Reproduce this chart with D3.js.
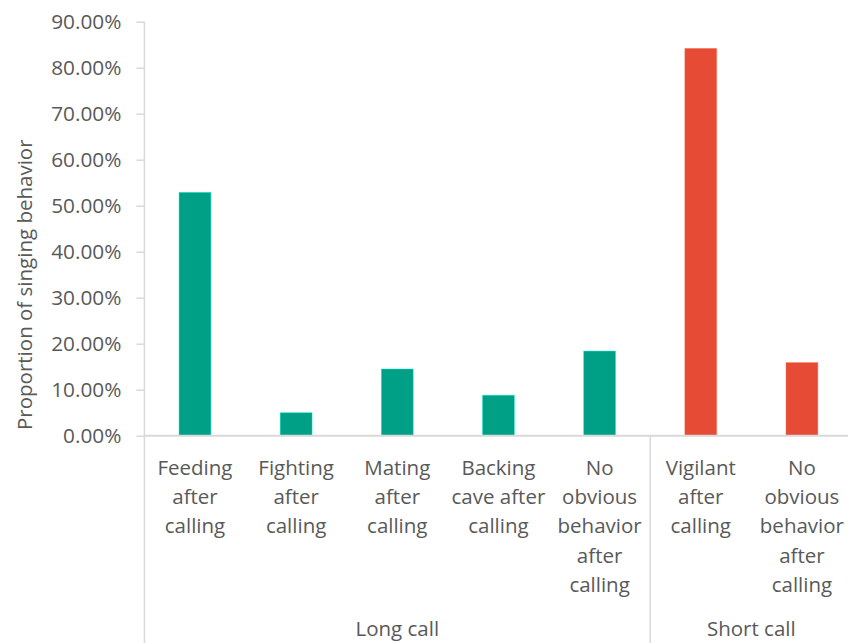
<!DOCTYPE html>
<html>
<head>
<meta charset="utf-8">
<script src="https://cdn.jsdelivr.net/npm/d3@7"></script>
<style>
  html, body { margin: 0; padding: 0; background: #fff; }
  svg { display: block; }
  text { font-family: "Open Sans", "Noto Sans", sans-serif; fill: #595959; }
</style>
</head>
<body>
<svg id="chart" width="848" height="643"></svg>
<script>
// Behaviour following each call type (line breaks as set in the axis labels)
const categories = [
  "Feeding\nafter\ncalling",
  "Fighting\nafter\ncalling",
  "Mating\nafter\ncalling",
  "Backing\ncave after\ncalling",
  "No\nobvious\nbehavior\nafter\ncalling",
  "Vigilant\nafter\ncalling",
  "No\nobvious\nbehavior\nafter\ncalling"
];
const groups = ["Long call", "Long call", "Long call", "Long call", "Long call", "Short call", "Short call"];
const values = [0.529, 0.050, 0.145, 0.088, 0.184, 0.842, 0.159];
const groupNames = ["Long call", "Short call"];
const yTicks = [0, 0.1, 0.2, 0.3, 0.4, 0.5, 0.6, 0.7, 0.8, 0.9];
const yTitle = "Proportion of singing behavior";

const groupColor = { "Long call": "#00A087", "Short call": "#E64B35" };

const svg = d3.select("#chart");
const plotL = 144.4, plotR = 852.5, plotT = 21.7, plotB = 435.7;
const axisColor = "#d9d9d9";

const x = d3.scaleBand()
  .domain(d3.range(categories.length))
  .range([plotL, plotR])
  .paddingInner(0.685)
  .paddingOuter(0.3425);

const y = d3.scaleLinear().domain([0, 0.9]).range([plotB, plotT]);

// Y axis: outward ticks and percentage labels
const yAxis = d3.axisLeft(y)
  .tickValues(yTicks)
  .tickSize(8)
  .tickPadding(15)
  .tickFormat(d => (d * 100).toFixed(2) + "%");

const gy = svg.append("g").attr("transform", `translate(${plotL},0)`).call(yAxis);
gy.select(".domain").remove();
gy.selectAll(".tick line").attr("stroke", axisColor).attr("stroke-width", 1.5);
gy.selectAll(".tick text")
  .style("font-size", "20.8px")
  .attr("fill", "#595959");

// vertical axis line running from the top tick to the bottom of the category area
svg.append("line")
  .attr("x1", plotL).attr("x2", plotL)
  .attr("y1", plotT).attr("y2", 643)
  .attr("stroke", axisColor).attr("stroke-width", 1.5);

// Bars
svg.append("g").selectAll("rect")
  .data(values)
  .join("rect")
  .attr("x", (d, i) => x(i))
  .attr("width", x.bandwidth())
  .attr("y", d => y(d))
  .attr("height", d => y(0) - y(d))
  .attr("fill", (d, i) => groupColor[groups[i]])
  .attr("stroke", (d, i) => d3.color(groupColor[groups[i]]).brighter(1.2))
  .attr("stroke-opacity", 0.5)
  .attr("stroke-width", 0.8);

// Baseline
svg.append("line")
  .attr("x1", plotL).attr("x2", plotR)
  .attr("y1", y(0)).attr("y2", y(0))
  .attr("stroke", axisColor).attr("stroke-width", 2);

// Category labels (multi-line, centered under each bar)
const lineH = 29.2;
const catG = svg.append("g");
categories.forEach((c, i) => {
  const cx = x(i) + x.bandwidth() / 2;
  const t = catG.append("text")
    .attr("text-anchor", "middle")
    .style("font-size", "20.5px");
  c.split("\n").forEach((ln, k) => {
    t.append("tspan")
      .attr("x", cx)
      .attr("y", 475 + k * lineH)
      .text(ln);
  });
});

// Group separators and group labels
const step = x.step();
groupNames.forEach((g, gi) => {
  const idx = groups.map((v, i) => v === g ? i : -1).filter(i => i >= 0);
  const x0 = plotL + idx[0] * step;
  const x1 = plotL + (idx[idx.length - 1] + 1) * step;
  if (gi > 0) {
    svg.append("line")
      .attr("x1", x0).attr("x2", x0)
      .attr("y1", y(0)).attr("y2", 643)
      .attr("stroke", axisColor).attr("stroke-width", 1.5);
  }
  svg.append("text")
    .attr("x", (x0 + x1) / 2)
    .attr("y", 636)
    .attr("text-anchor", "middle")
    .style("font-size", "20.5px")
    .text(g);
});

// Y axis title
svg.append("text")
  .attr("transform", `translate(32,${(plotT + plotB) / 2 + 56}) rotate(-90)`)
  .attr("text-anchor", "middle")
  .style("font-size", "20.5px")
  .text(yTitle);
</script>
</body>
</html>
